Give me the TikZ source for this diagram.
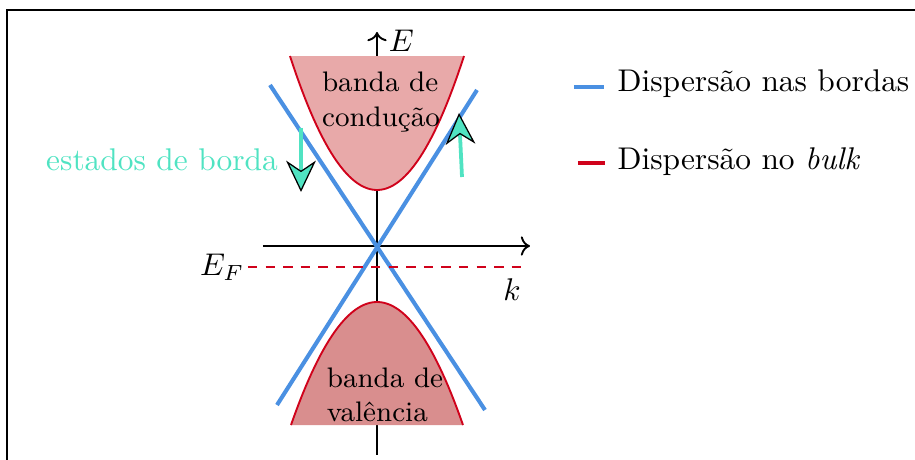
\documentclass[tikz,border=0pt]{standalone}
\usetikzlibrary{arrows.meta}
\definecolor{bandred}{HTML}{D0021B}
\definecolor{condfill}{HTML}{E8A9A9}
\definecolor{valfill}{HTML}{D98E8E}
\definecolor{edgeblue}{HTML}{4A90E2}
\definecolor{stateteal}{HTML}{50E3C2}
\tikzset{
  axis/.style={line width=0.6pt,->},
  bandedge/.style={draw=bandred,line width=0.6pt},
  edgeline/.style={draw=edgeblue,line width=1.3pt},
  statearrow/.style={draw=stateteal,line width=1.2pt,
    -{Stealth[length=10pt,width=9.5pt,inset=3.2pt,color=black,fill=stateteal,line width=0.4pt]}},
  bandlabel/.style={font=\small,align=left,inner sep=0pt},
}
\begin{document}
\begin{tikzpicture}[x=0.3185pt,y=-0.3185pt]
\useasboundingbox (0,0) rectangle (915,460);
% frame
\draw[line width=0.45pt] (7,470) -- (7,10) -- (925,10);
% axes
\coordinate (ybot) at (377,455);
\coordinate (ytop) at (377,32);
\coordinate (xl) at (263,246);
\coordinate (xr) at (530,246);
\draw[axis] (ybot) -- (ytop);
\draw[axis] (xl) -- (xr);
\node[anchor=west,inner sep=1pt] (Elab) at (385,41) {$E$};
\node (klab) at (512,290) {$k$};
% bands
\fill[condfill] plot[domain=-87:87,samples=60] ({377+\x},{190-0.0177*\x*\x}) -- cycle;
\draw[bandedge] plot[domain=-87:87,samples=60] ({377+\x},{190-0.0177*\x*\x});
\fill[valfill] plot[domain=-86:86,samples=60] ({377+\x},{302+0.01663*\x*\x}) -- cycle;
\draw[bandedge] plot[domain=-86:86,samples=60] ({377+\x},{302+0.01663*\x*\x});
\node[bandlabel] (cond) at (381,102) {banda de\\condução};
\node[bandlabel] (val) at (385,395) {banda de\\valência};
% edge dispersion
\coordinate (a1) at (270,85);
\coordinate (a2) at (485,410);
\coordinate (b1) at (277,405);
\coordinate (b2) at (477,90);
\draw[edgeline] (a1) -- (a2);
\draw[edgeline] (b1) -- (b2);
% Fermi level
\coordinate (ef1) at (248,267);
\coordinate (ef2) at (525,267);
\draw[bandred,line width=0.5pt,dash pattern=on 3pt off 2.6pt] (ef1) -- (ef2);
\node[anchor=east,inner sep=1pt] (EF) at (ef1) {$E_F$};
% edge states
\coordinate (s1) at (301,128);
\coordinate (s1t) at (301,192);
\coordinate (s2) at (462,177);
\coordinate (s2t) at (459,113);
\draw[statearrow] (s1) -- (s1t);
\draw[statearrow] (s2) -- (s2t);
\node[text=stateteal] (states) at (162,160) {estados de borda};
% legend
\coordinate (l1a) at (574,87);
\coordinate (l1b) at (604,87);
\coordinate (l2a) at (578,163);
\coordinate (l2b) at (605,163);
\draw[edgeline] (l1a) -- (l1b);
\draw[bandred,line width=1.3pt] (l2a) -- (l2b);
\node[anchor=west,inner sep=0pt] (leg1) at (617,84) {Dispersão nas bordas};
\node[anchor=west,inner sep=0pt] (leg2) at (617,162) {Dispersão no \textit{bulk}};
\end{tikzpicture}
\end{document}
